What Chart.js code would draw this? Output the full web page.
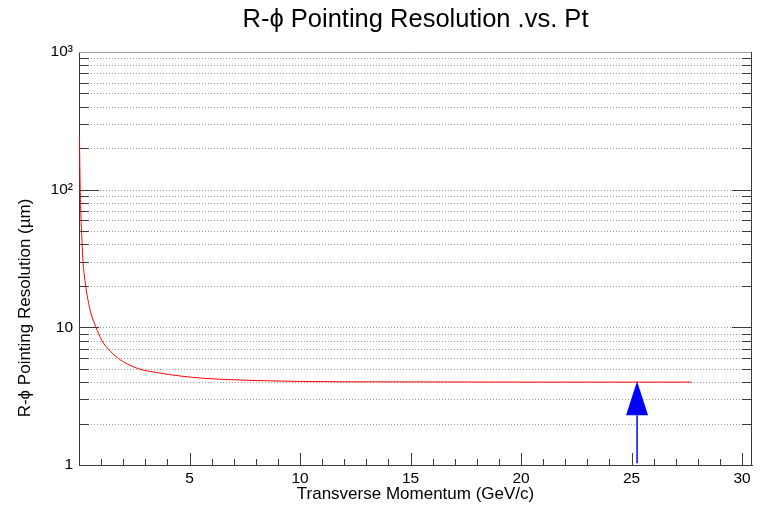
<!DOCTYPE html>
<html>
<head>
<meta charset="utf-8">
<script src="https://cdn.jsdelivr.net/npm/chart.js@4/dist/chart.umd.min.js"></script>
<style>
  html, body { margin: 0; padding: 0; background: #fff; }
  #wrap { width: 765px; height: 506px; }
</style>
</head>
<body>
<div id="wrap"><canvas id="c" width="765" height="506"></canvas></div>
<script>
// Texts
const chartTitle = 'R-\u03D5 Pointing Resolution .vs. Pt';
const xTitle = 'Transverse Momentum (GeV/c)';
const yTitle = 'R-\u03D5 Pointing Resolution (\u00B5m)';

// Resolution curve: transverse momentum (GeV/c) and R-phi pointing resolution (um)
const ptValues = [0.02, 0.05, 0.08, 0.12, 0.15, 0.18, 0.24, 0.30, 0.40, 0.55,
                  0.77, 0.89, 1.04, 1.31, 1.75, 2.2, 2.7, 3.5, 4.58, 5.7,
                  7.0, 9.1, 12, 16, 20, 25, 27.7];
const resolutionValues = [240, 110, 70, 48, 38, 30, 24, 20, 16, 12.5,
                          10, 9, 8, 7, 6, 5.4, 5.0, 4.7, 4.43, 4.26,
                          4.16, 4.07, 4.02, 4.01, 4.0, 4.0, 4.0];

// Marker arrow (pt position, from / to resolution)
const arrowPt = 25.25;
const arrowFrom = 1.03;
const arrowTo = 4.05;

// Axis ticks
const xMajorTicks = [5, 10, 15, 20, 25, 30];
const xMinorTicks = [1, 2, 3, 4, 6, 7, 8, 9, 11, 12, 13, 14, 16, 17, 18, 19,
                     21, 22, 23, 24, 26, 27, 28, 29];
const yDecades = [1, 10, 100, 1000];
const yDecadeLabels = ['1', '10', '10\u00B2', '10\u00B3'];
const yMinorTicks = [2, 3, 4, 5, 6, 7, 8, 9,
                     20, 30, 40, 50, 60, 70, 80, 90,
                     200, 300, 400, 500, 600, 700, 800, 900];

const FONT = "'Liberation Sans', Arial, Helvetica, sans-serif";
const AXIS_COLOR = '#3a3a3a';

const framePlugin = {
  id: 'frame',
  beforeDatasetsDraw(chart) {
    const { ctx, chartArea: a, scales: { x, y } } = chart;
    ctx.save();
    // dotted horizontal grid
    ctx.strokeStyle = '#999999';
    ctx.lineWidth = 1;
    ctx.setLineDash([1, 2]);
    [10, 100].concat(yMinorTicks).forEach(v => {
      const py = Math.round(y.getPixelForValue(v)) + 0.5;
      ctx.beginPath();
      ctx.moveTo(a.left, py);
      ctx.lineTo(a.right, py);
      ctx.stroke();
    });
    ctx.setLineDash([]);

    // top and right frame
    ctx.strokeStyle = '#a0a0a0';
    ctx.beginPath();
    ctx.moveTo(a.left, Math.round(a.top) + 0.5);
    ctx.lineTo(a.right, Math.round(a.top) + 0.5);
    ctx.stroke();
    ctx.strokeStyle = AXIS_COLOR;
    ctx.beginPath();
    ctx.moveTo(Math.round(a.right) - 0.5, a.top);
    ctx.lineTo(Math.round(a.right) - 0.5, a.bottom);
    ctx.stroke();

    // y ticks on both sides
    const yTick = (v, len) => {
      const py = Math.round(y.getPixelForValue(v)) + 0.5;
      ctx.beginPath();
      ctx.moveTo(a.left, py); ctx.lineTo(a.left + len, py);
      ctx.moveTo(a.right, py); ctx.lineTo(a.right - len, py);
      ctx.stroke();
    };
    yMinorTicks.forEach(v => yTick(v, 10));
    [10, 100].forEach(v => yTick(v, 20));

    // x ticks pointing up from the bottom axis
    const xTick = (v, len) => {
      const px = Math.round(x.getPixelForValue(v)) + 0.5;
      ctx.beginPath();
      ctx.moveTo(px, a.bottom); ctx.lineTo(px, a.bottom - len);
      ctx.stroke();
    };
    xMinorTicks.forEach(v => xTick(v, 6));
    xMajorTicks.forEach(v => xTick(v, 12));
    ctx.restore();
  },
  afterDatasetsDraw(chart) {
    const { ctx, chartArea: a, scales: { x, y } } = chart;
    ctx.save();
    // arrow
    const ax = x.getPixelForValue(arrowPt);
    const y0 = y.getPixelForValue(arrowFrom);
    const y1 = y.getPixelForValue(arrowTo);
    const headLen = 34, headHalf = 11;
    ctx.strokeStyle = '#0000ff';
    ctx.fillStyle = '#0000ff';
    ctx.lineWidth = 1.5;
    ctx.beginPath();
    ctx.moveTo(ax, y0);
    ctx.lineTo(ax, y1 + headLen);
    ctx.stroke();
    ctx.beginPath();
    ctx.moveTo(ax, y1);
    ctx.lineTo(ax - headHalf, y1 + headLen);
    ctx.lineTo(ax + headHalf, y1 + headLen);
    ctx.closePath();
    ctx.fill();

    // titles
    ctx.fillStyle = '#000';
    ctx.textAlign = 'center';
    ctx.textBaseline = 'alphabetic';
    ctx.font = '25.5px ' + FONT;
    ctx.fillText(chartTitle, (a.left + a.right) / 2, 27);
    ctx.font = '17px ' + FONT;
    ctx.fillText(xTitle, (a.left + a.right) / 2, 499);
    ctx.translate(30, 308);
    ctx.rotate(-Math.PI / 2);
    ctx.fillText(yTitle, 0, 0);
    ctx.restore();
  }
};

new Chart(document.getElementById('c'), {
  type: 'line',
  data: {
    datasets: [{
      data: ptValues.map((p, i) => ({ x: p, y: resolutionValues[i] })),
      borderColor: '#ff0000',
      borderWidth: 1,
      pointRadius: 0,
      fill: false,
      cubicInterpolationMode: 'monotone'
    }]
  },
  options: {
    responsive: false,
    animation: false,
    devicePixelRatio: 1,
    layout: { padding: { top: 52, right: 13, left: 0, bottom: 0 } },
    plugins: { legend: { display: false }, tooltip: { enabled: false }, title: { display: false } },
    scales: {
      x: {
        type: 'linear',
        min: 0,
        max: 30.45,
        afterFit: s => { s.height = 41; },
        afterBuildTicks: s => { s.ticks = xMajorTicks.map(v => ({ value: v })); },
        grid: { display: false, drawTicks: false },
        border: { display: true, color: AXIS_COLOR, width: 1 },
        ticks: {
          padding: 4,
          maxRotation: 0,
          autoSkip: false,
          color: '#000',
          font: { family: FONT, size: 15.5 },
          callback: v => String(v)
        }
      },
      y: {
        type: 'logarithmic',
        min: 1,
        max: 1000,
        afterFit: s => { s.width = 79; },
        afterBuildTicks: s => { s.ticks = yDecades.map(v => ({ value: v })); },
        grid: { display: false, drawTicks: false },
        border: { display: true, color: AXIS_COLOR, width: 1 },
        ticks: {
          padding: 6,
          autoSkip: false,
          color: '#000',
          font: { family: FONT, size: 15.5 },
          callback: v => yDecadeLabels[yDecades.indexOf(v)]
        }
      }
    }
  },
  plugins: [framePlugin]
});
</script>
</body>
</html>
